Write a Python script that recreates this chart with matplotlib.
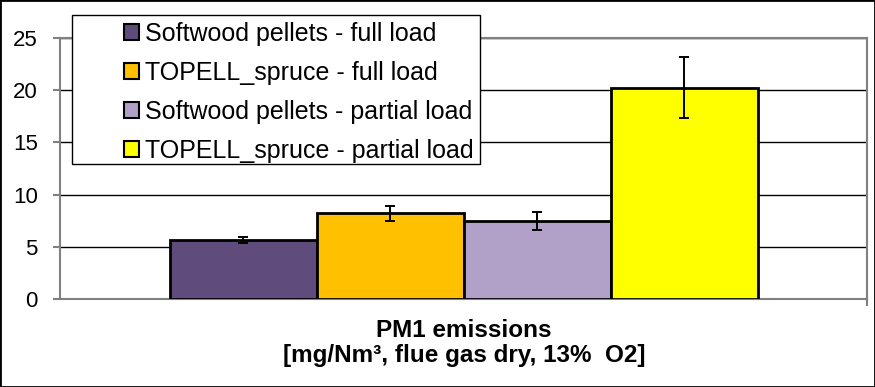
import matplotlib
matplotlib.use("Agg")
import matplotlib.pyplot as plt
from matplotlib.patches import Rectangle

# data
series = [
    "Softwood pellets - full load",
    "TOPELL_spruce - full load",
    "Softwood pellets - partial load",
    "TOPELL_spruce - partial load",
]
values = [5.65, 8.2, 7.5, 20.25]
errors = [0.3, 0.75, 0.87, 2.9]
colors = ["#604c7c", "#ffc000", "#b1a0c7", "#ffff00"]
yticks = [0, 5, 10, 15, 20, 25]

plt.rcParams["font.family"] = ["Liberation Sans", "DejaVu Sans"]

W, H = 875, 387
fig = plt.figure(figsize=(W / 100, H / 100), dpi=100)
ax = fig.add_axes([60 / W, 1 - 299 / H, 807 / W, 261 / H])

width = 147 / 807
start = 0.5 - 2 * width
for i, (name, v, e, c) in enumerate(zip(series, values, errors, colors)):
    x = start + width * (i + 0.5)
    ax.bar(x, v, width=width, color=c, edgecolor="black", linewidth=2,
           label=name, zorder=3)
    ax.errorbar(x, v, yerr=e, fmt="none", ecolor="black", elinewidth=1.4,
                capsize=3.5, capthick=1.4, zorder=4)

ax.set_xlim(0, 1)
ax.set_ylim(0, 25)
ax.set_yticks(yticks)
ax.yaxis.grid(True, color="black", linewidth=1, zorder=0)
ax.set_axisbelow(True)
ax.set_xticks([1.0])
ax.set_xticklabels([])
ax.tick_params(axis="x", length=5, color="#808080", width=1.5, direction="out")
ax.tick_params(axis="y", length=5, color="#808080", width=1.5, labelsize=16,
               pad=11)
for side in ["left", "bottom", "top", "right"]:
    ax.spines[side].set_color("#808080")
    ax.spines[side].set_linewidth(1.5)

fig.text(464 / W, 1 - 343 / H,
         "PM1 emissions\n[mg/Nm³, flue gas dry, 13%  O2]",
         ha="center", va="center", fontsize=17.5, fontweight="bold",
         linespacing=1.1)

# legend box drawn separately, entries placed inside it
fig.patches.append(Rectangle((72 / W, 1 - 164 / H), 408 / W, 149 / H,
                             transform=fig.transFigure, facecolor="white",
                             edgecolor="black", linewidth=1, zorder=5))
handles, labels = ax.get_legend_handles_labels()
leg = fig.legend(handles, labels, loc="upper left",
                 bbox_to_anchor=(124 / W, 1 - 22 / H),
                 fontsize=18, frameon=False, handlelength=0.6,
                 handleheight=0.6, handletextpad=0.25, labelspacing=0.6,
                 borderpad=0, borderaxespad=0)
leg.set_zorder(6)
for h in leg.legend_handles:
    h.set_linewidth(1.5)

fig.patches.append(Rectangle((0, 0), 1, 1, transform=fig.transFigure,
                             fill=False, edgecolor="black", linewidth=2))

fig.savefig("out.png", dpi=100)
